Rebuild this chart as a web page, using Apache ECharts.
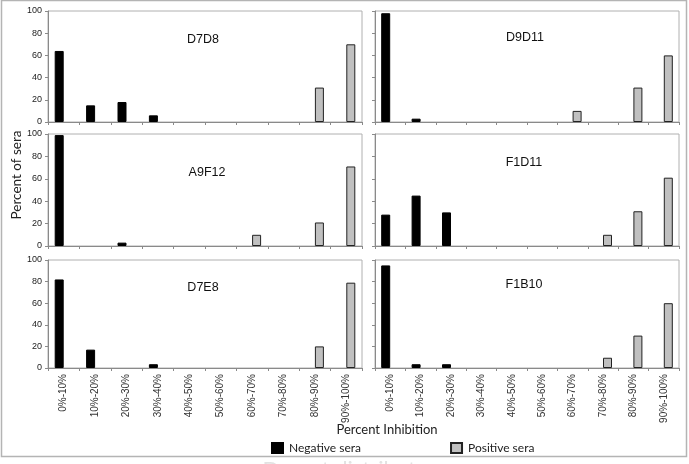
<!DOCTYPE html>
<html>
<head>
<meta charset="utf-8">
<script src="https://cdn.jsdelivr.net/npm/echarts@6/dist/echarts.min.js"></script>
<style>
html,body{margin:0;padding:0;background:#fff;}
#chart{width:689px;height:464px;}
</style>
</head>
<body>
<div id="chart"></div>
<script>
// ---- data ----
const categories = ['0%-10%','10%-20%','20%-30%','30%-40%','40%-50%','50%-60%','60%-70%','70%-80%','80%-90%','90%-100%'];
const panelNames = ['D7D8','D9D11','A9F12','F1D11','D7E8','F1B10'];
const yTicks = [0,20,40,60,80,100];

const negD7D8  = [64,15,18,6,0,0,0,0,0,0];
const posD7D8  = [0,0,0,0,0,0,0,0,31,70];
const negD9D11 = [98,3,0,0,0,0,0,0,0,0];
const posD9D11 = [0,0,0,0,0,0,10,0,31,60];
const negA9F12 = [99,0,3,0,0,0,0,0,0,0];
const posA9F12 = [0,0,0,0,0,0,10,0,21,71];
const negF1D11 = [28,45,30,0,0,0,0,0,0,0];
const posF1D11 = [0,0,0,0,0,0,0,10,31,61];
const negD7E8  = [82,17,0,3.5,0,0,0,0,0,0];
const posD7E8  = [0,0,0,0,0,0,0,0,20,79];
const negF1B10 = [95,3.5,3.5,0,0,0,0,0,0,0];
const posF1B10 = [0,0,0,0,0,0,0,9.5,30,60];

const negSets = [negD7D8, negD9D11, negA9F12, negF1D11, negD7E8, negF1B10];
const posSets = [posD7D8, posD9D11, posA9F12, posF1D11, posD7E8, posF1B10];

// ---- layout ----
const cols = [{left:48, width:314}, {left:375, width:304}];
const rows = [{top:11, height:111}, {top:134, height:112}, {top:260, height:108}];
const titlePos = [[203,40],[525,38],[207,173],[524,163],[203,288],[524,285]];

const grids = [], xAxes = [], yAxes = [], series = [], graphics = [];
for (let i = 0; i < 6; i++) {
  const r = Math.floor(i / 2), c = i % 2;
  grids.push({left: cols[c].left, width: cols[c].width, top: rows[r].top, height: rows[r].height,
    show: true, borderColor: '#b0b0b0', borderWidth: 1, backgroundColor: '#fff'});
  xAxes.push({type: 'category', gridIndex: i, data: categories,
    axisLine: {lineStyle: {color: '#8a8a8a', width: 1}},
    axisTick: {show: true, length: 3, lineStyle: {color: '#8a8a8a'}},
    axisLabel: {show: r === 2, rotate: 90, interval: 0, margin: 6, fontSize: 10,
      fontFamily: 'Liberation Sans', color: '#333'}});
  yAxes.push({type: 'value', gridIndex: i, min: 0, max: 100, interval: 20,
    splitLine: {show: false},
    axisLine: {show: true, lineStyle: {color: '#8a8a8a', width: 1}},
    axisTick: {show: true, length: 3, lineStyle: {color: '#8a8a8a'}},
    axisLabel: {show: c === 0, margin: 6, fontSize: 9, fontFamily: 'Liberation Sans', color: '#222'}});
  series.push({type: 'bar', name: 'Negative sera', xAxisIndex: i, yAxisIndex: i,
    data: negSets[i].map(v => v === 0 ? '-' : v), barWidth: 9, barGap: '0%',
    itemStyle: {color: '#000', borderColor: '#000', borderWidth: 1}});
  series.push({type: 'bar', name: 'Positive sera', xAxisIndex: i, yAxisIndex: i,
    data: posSets[i].map(v => v === 0 ? '-' : v), barWidth: 9, barGap: '0%',
    itemStyle: {color: '#c0c0c0', borderColor: '#222', borderWidth: 1}});
  graphics.push({type: 'text', x: titlePos[i][0], y: titlePos[i][1], z: 100,
    style: {text: panelNames[i], fill: '#111', font: '12.5px "Liberation Sans"', textAlign: 'center', textVerticalAlign: 'middle'}});
}

graphics.push({type: 'rect', shape: {x: 1.5, y: 0.5, width: 685, height: 456}, z: -10,
  style: {fill: 'none', stroke: '#b4b4b4', lineWidth: 1.5}});
graphics.push({type: 'text', x: 17, y: 175, rotation: Math.PI / 2,
  style: {text: 'Percent of sera', fill: '#222', font: '13.5px Lato', textAlign: 'center', textVerticalAlign: 'middle'}});
graphics.push({type: 'text', x: 387, y: 430,
  style: {text: 'Percent Inhibition', fill: '#222', font: '13px Lato', textAlign: 'center', textVerticalAlign: 'middle'}});
graphics.push({type: 'text', x: 345, y: 459,
  style: {text: 'Do not distribute', fill: '#e2e2e2', font: '22px Lato', textAlign: 'center', textVerticalAlign: 'top'}});

const chart = echarts.init(document.getElementById('chart'), null, {renderer: 'canvas'});
chart.setOption({
  animation: false,
  backgroundColor: '#fff',
  grid: grids,
  xAxis: xAxes,
  yAxis: yAxes,
  series: series,
  legend: {data: ['Negative sera', 'Positive sera'], left: 266, top: 437, itemWidth: 11, itemHeight: 10,
    itemGap: 89, icon: 'rect', selectedMode: false,
    textStyle: {fontFamily: 'Lato', fontSize: 12, color: '#222', padding: [0,0,0,1]}},
  graphic: graphics
});
</script>
</body>
</html>
